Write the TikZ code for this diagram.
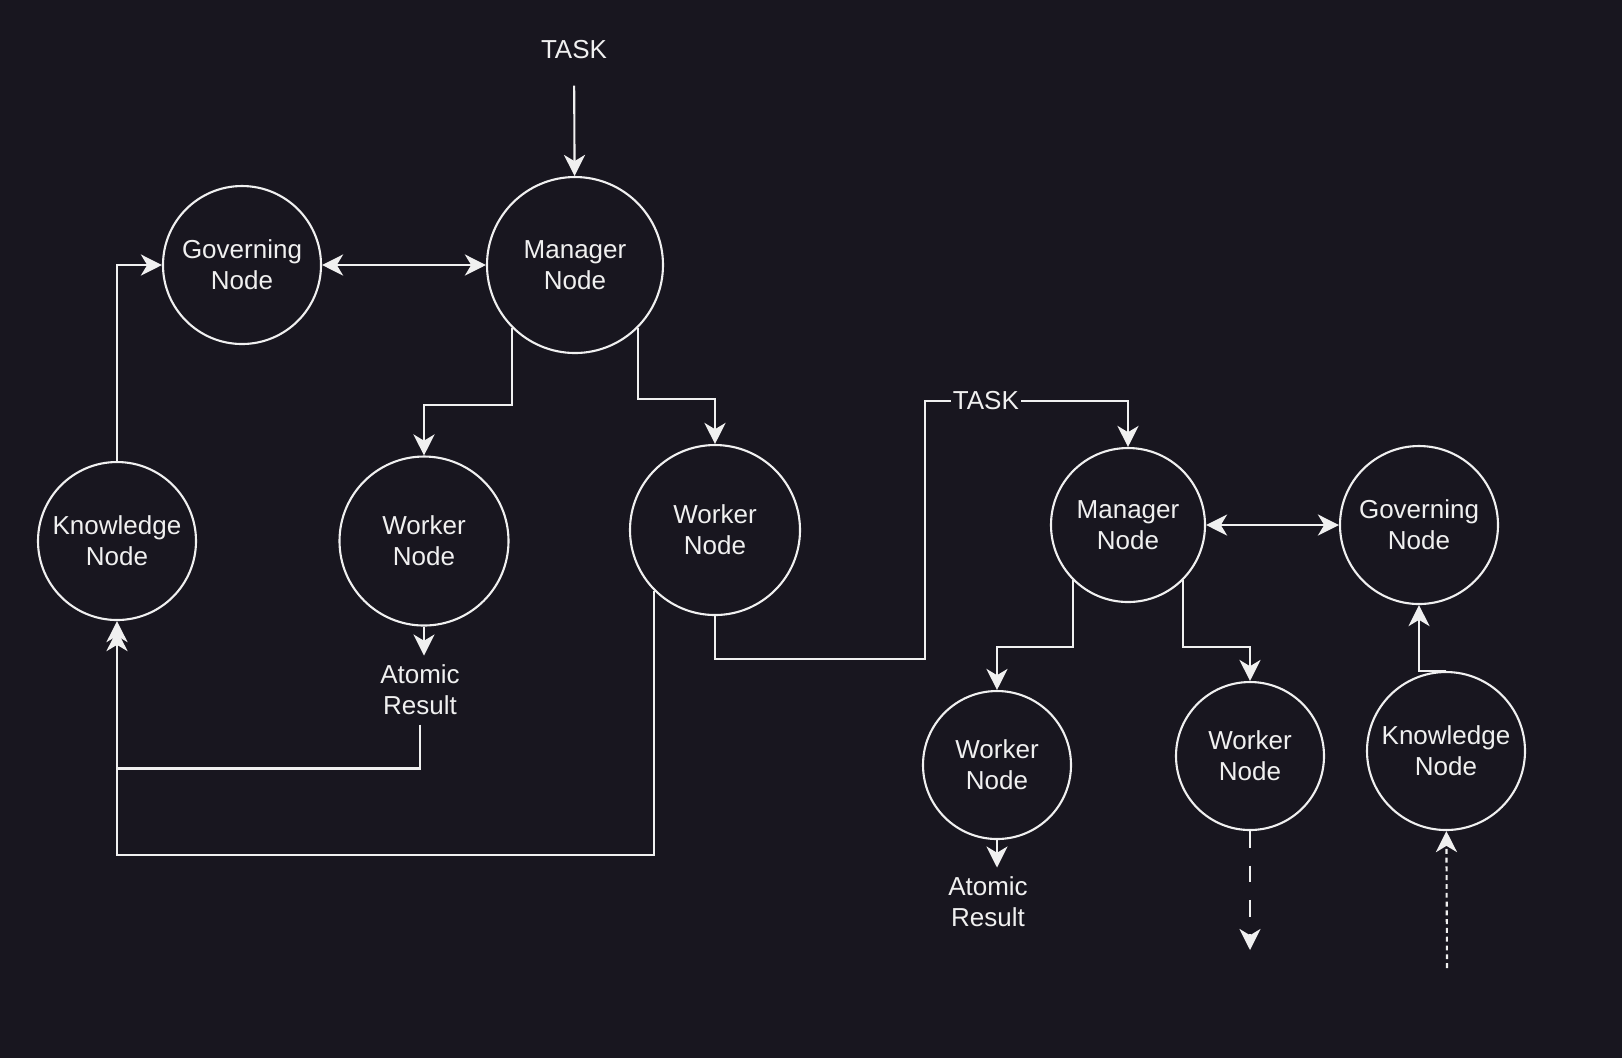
\documentclass[tikz,border=0pt]{standalone}
\usepackage{fontspec}
\setmainfont{Liberation Sans}
\usetikzlibrary{arrows.meta}
\definecolor{hbg}{HTML}{18161F}
\definecolor{hline}{HTML}{F0F0F0}
\tikzset{
  >={Stealth[length=6pt,width=6pt,inset=1.8pt]},
  font=\fontsize{7.4}{8.8}\selectfont,
  agent/.style={draw=hline,line width=0.6pt,circle,fill=hbg,text=hline,
                inner sep=0pt,align=center},
  flow/.style={->,line width=0.6pt,draw=hline},
  both/.style={<->,line width=0.6pt,draw=hline},
  flowlbl/.style={text=hline,fill=hbg,inner sep=0.5pt},
  result/.style={text=hline,align=center,inner sep=2.5pt},
}

\begin{document}
\begin{tikzpicture}
  \fill[hbg] (0,0) rectangle (16.22,-10.58);
  \useasboundingbox (0,0) rectangle (16.22,-10.58);

  % first cluster
  \node[result] (taskA) at (5.74,-0.50) {TASK};
  \node[agent,minimum size=17.6mm] (mgrA) at (5.75,-2.65) {Manager\\Node};
  \node[agent,minimum size=15.8mm] (govA) at (2.42,-2.65) {Governing\\Node};
  \node[agent,minimum size=15.8mm] (knwA) at (1.17,-5.41) {Knowledge\\Node};
  \node[agent,minimum size=16.9mm] (wrkA) at (4.24,-5.41) {Worker\\Node};
  \node[agent,minimum size=17.0mm] (wrkB) at (7.15,-5.30) {Worker\\Node};
  \node[result] (resA) at (4.20,-6.90) {Atomic\\Result};

  % second cluster
  \node[agent,minimum size=15.4mm] (mgrB) at (11.28,-5.25) {Manager\\Node};
  \node[agent,minimum size=15.8mm] (govB) at (14.19,-5.25) {Governing\\Node};
  \node[agent,minimum size=14.8mm] (wrkC) at (9.97,-7.65) {Worker\\Node};
  \node[agent,minimum size=14.8mm] (wrkD) at (12.50,-7.56) {Worker\\Node};
  \node[agent,minimum size=15.8mm] (knwB) at (14.46,-7.51) {Knowledge\\Node};
  \node[result] (resB) at (9.88,-9.02) {Atomic\\Result};
  \coordinate (tbend) at (9.25,-4.01);
  \coordinate (outD) at (12.50,-9.50);
  \coordinate (inB) at (14.47,-9.68);

  \draw[flow,shorten <=1.7mm] (taskA) -- (mgrA);
  \draw[both] (govA) -- (mgrA);
  \draw[flow] (knwA) |- (govA);
  \draw[flow] (mgrA.south west) -- ++(0,-0.77) -| (wrkA);
  \draw[flow] (mgrA.south east) -- ++(0,-0.71) -| (wrkB);
  \draw[flow] (wrkA) -- (wrkA |- resA.north);
  \draw[flow] (resA.south) -- ++(0,-0.44) -| (knwA);
  \draw[flow,shorten >=0.9mm] (wrkB.south west) -- ++(0,-2.64) -| (knwA);

  % hand-off to the next manager
  \draw[flow] (wrkB.south) -- ++(0,-0.43) -| (tbend)
    -| node[flowlbl,pos=0.15]{TASK} (mgrB);

  \draw[both] (mgrB) -- (govB);
  \draw[flow] (mgrB.south west) -- ++(0,-0.67) -| (wrkC);
  \draw[flow] (mgrB.south east) -- ++(0,-0.67) -| (wrkD);
  \draw[flow] (wrkC) -- (wrkC |- resB.north);
  \draw[flow,dash pattern=on 4.8pt off 5pt] (wrkD) -- (outD);
  \draw[flow,dash pattern=on 1.4pt off 1.1pt] (inB) -- (knwB);
  \draw[flow] (knwB.north) -| (govB);
\end{tikzpicture}
\end{document}
